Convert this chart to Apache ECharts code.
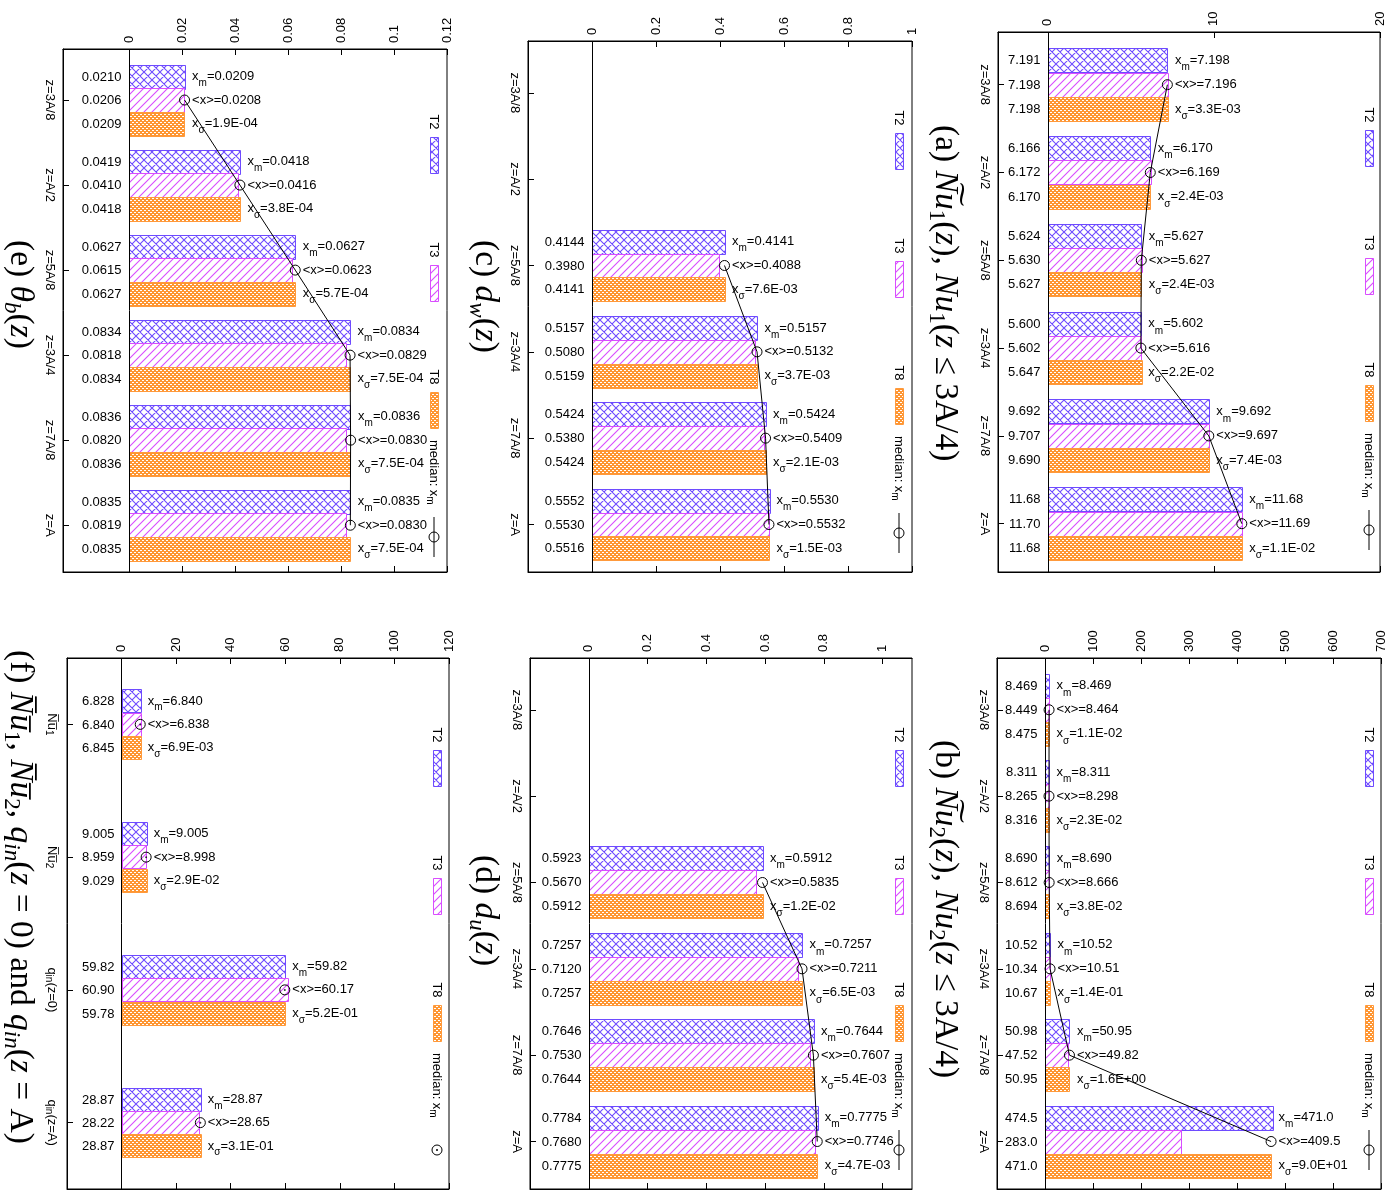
<!DOCTYPE html>
<html><head><meta charset="utf-8">
<script src="https://cdn.jsdelivr.net/npm/echarts@6/dist/echarts.min.js"></script>
<style>html,body{margin:0;padding:0;background:#fff}#c{width:1389px;height:1195px}</style>
</head><body><div id="c"></div>
<script>
// ---------------- DATA ----------------
const catsZ = ['z=3A/8','z=A/2','z=5A/8','z=3A/4','z=7A/8','z=A'];
const catsF = ['{a|N\u0305u\u0305}{s|1}','{a|N\u0305u\u0305}{s|2}','{a|q}{s|in}{a|(z=0)}','{a|q}{s|in}{a|(z=A)}'];

const a_T2=[7.191,6.166,5.624,5.600,9.692,11.68];
const a_T3=[7.198,6.172,5.630,5.602,9.707,11.70];
const a_T8=[7.198,6.170,5.627,5.647,9.690,11.68];
const a_xm=[7.198,6.170,5.627,5.602,9.692,11.68];
const a_mean=[7.196,6.169,5.627,5.616,9.697,11.69];
const a_sd=[3.3e-3,2.4e-3,2.4e-3,2.2e-2,7.4e-3,1.1e-2];
const a_ticks=[0,10,20];

const b_T2=[8.469,8.311,8.690,10.52,50.98,474.5];
const b_T3=[8.449,8.265,8.612,10.34,47.52,283.0];
const b_T8=[8.475,8.316,8.694,10.67,50.95,471.0];
const b_xm=[8.469,8.311,8.690,10.52,50.95,471.0];
const b_mean=[8.464,8.298,8.666,10.51,49.82,409.5];
const b_sd=[1.1e-2,2.3e-2,3.8e-2,1.4e-1,1.6,90];
const b_ticks=[0,100,200,300,400,500,600,700];

const c_T2=[null,null,0.4144,0.5157,0.5424,0.5552];
const c_T3=[null,null,0.3980,0.5080,0.5380,0.5530];
const c_T8=[null,null,0.4141,0.5159,0.5424,0.5516];
const c_xm=[null,null,0.4141,0.5157,0.5424,0.5530];
const c_mean=[null,null,0.4088,0.5132,0.5409,0.5532];
const c_sd=[null,null,7.6e-3,3.7e-3,2.1e-3,1.5e-3];
const c_ticks=[0,0.2,0.4,0.6,0.8,1];

const d_T2=[null,null,0.5923,0.7257,0.7646,0.7784];
const d_T3=[null,null,0.5670,0.7120,0.7530,0.7680];
const d_T8=[null,null,0.5912,0.7257,0.7644,0.7775];
const d_xm=[null,null,0.5912,0.7257,0.7644,0.7775];
const d_mean=[null,null,0.5835,0.7211,0.7607,0.7746];
const d_sd=[null,null,1.2e-2,6.5e-3,5.4e-3,4.7e-3];
const d_ticks=[0,0.2,0.4,0.6,0.8,1];

const e_T2=[0.0210,0.0419,0.0627,0.0834,0.0836,0.0835];
const e_T3=[0.0206,0.0410,0.0615,0.0818,0.0820,0.0819];
const e_T8=[0.0209,0.0418,0.0627,0.0834,0.0836,0.0835];
const e_xm=[0.0209,0.0418,0.0627,0.0834,0.0836,0.0835];
const e_mean=[0.0208,0.0416,0.0623,0.0829,0.0830,0.0830];
const e_sd=[1.9e-4,3.8e-4,5.7e-4,7.5e-4,7.5e-4,7.5e-4];
const e_ticks=[0,0.02,0.04,0.06,0.08,0.1,0.12];

const f_T2=[6.828,9.005,59.82,28.87];
const f_T3=[6.840,8.959,60.90,28.22];
const f_T8=[6.845,9.029,59.78,28.87];
const f_xm=[6.840,9.005,59.82,28.87];
const f_mean=[6.838,8.998,60.17,28.65];
const f_sd=[6.9e-3,2.9e-2,5.2e-1,3.1e-1];
const f_ticks=[0,20,40,60,80,100,120];

const seriesNames=['T2','T3','T8'];

// ---------------- STYLE ----------------
const FONT='"Liberation Sans", Arial, sans-serif';
const SERIF='"Liberation Serif", "Times New Roman", serif';
const COL={T2:'#6e4bff',T3:'#d94dff',T8:'#ff9a3c'};

function mkPattern(kind,color){
  const c=document.createElement('canvas');
  const g=c.getContext('2d');
  if(kind==='T8'){
    c.width=c.height=4;
    const img=g.createImageData(4,4);
    const rgb=[255,150,50];
    for(let i=0;i<4;i++)for(let j=0;j<4;j++){
      const a=(i+j)%4, b=((i-j)%4+4)%4;
      const white=(a>=2&&b>=2);
      const k=(j*4+i)*4;
      img.data[k]=white?255:rgb[0];img.data[k+1]=white?255:rgb[1];img.data[k+2]=white?255:rgb[2];img.data[k+3]=255;
    }
    g.putImageData(img,0,0);
  } else {
    c.width=c.height=8;
    g.fillStyle='#fff';g.fillRect(0,0,8,8);
    g.strokeStyle=color;g.lineWidth=1.1;g.beginPath();
    for(const k of [-8,0,8]){
      g.moveTo(k-1,9);g.lineTo(k+9,-1);
      if(kind==='T2'){g.moveTo(k-1,-1);g.lineTo(k+9,9);}
    }
    g.stroke();
  }
  return {image:c,repeat:'repeat'};
}
const PAT={T2:mkPattern('T2',COL.T2),T3:mkPattern('T3',COL.T3),T8:mkPattern('T8',COL.T8)};

const g4=v=>v.toPrecision(4);
const f4=v=>v.toFixed(4);
function sci(v){const s=v.toExponential(1);const [m,e]=s.split('e');const n=parseInt(e,10);return m+'E'+(n<0?'-':'+')+String(Math.abs(n)).padStart(2,'0');}
const tickFmt=v=>String(parseFloat((+v).toFixed(6)));

const P6={ymin:-0.6,ymax:5.55};
const panels=[
 {L:998,T:32,R:1380,B:572,xmin:-3,xmax:20,ticks:a_ticks,cats:catsZ,d:[a_T2,a_T3,a_T8],xm:a_xm,mean:a_mean,sd:a_sd,fmt:g4,line:true,h:24.3,...P6,
  title:'{r|(a) }{i|N\u0360u}{s|1}{r|(}{i|z}{r|), }{i|Nu}{s|1}{r|(}{i|z}{r| \u2264 3A/4)}',tx:945,ty:125,lx:1369,ly:115},
 {L:997,T:658,R:1381,B:1189,xmin:-100,xmax:700,ticks:b_ticks,cats:catsZ,d:[b_T2,b_T3,b_T8],xm:b_xm,mean:b_mean,sd:b_sd,fmt:g4,line:true,h:24,...P6,
  title:'{r|(b) }{i|N\u0360u}{s|2}{r|(}{i|z}{r|), }{i|Nu}{s|2}{r|(}{i|z}{r| \u2264 3A/4)}',tx:945,ty:740,lx:1369,ly:735},
 {L:528,T:41,R:912,B:572,xmin:-0.2,xmax:1,ticks:c_ticks,cats:catsZ,d:[c_T2,c_T3,c_T8],xm:c_xm,mean:c_mean,sd:c_sd,fmt:f4,line:true,h:23.8,...P6,
  title:'{r|(c) }{i|d}{si|w}{r|(}{i|z}{r|)}',tx:485,ty:240,lx:899,ly:118},
 {L:530,T:658,R:912,B:1189,xmin:-0.2,xmax:1.1,ticks:d_ticks,cats:catsZ,d:[d_T2,d_T3,d_T8],xm:d_xm,mean:d_mean,sd:d_sd,fmt:f4,line:true,h:24,...P6,
  title:'{r|(d) }{i|d}{si|u}{r|(}{i|z}{r|)}',tx:485,ty:855,lx:899,ly:735},
 {L:63,T:49,R:447,B:572,xmin:-0.025,xmax:0.12,ticks:e_ticks,cats:catsZ,d:[e_T2,e_T3,e_T8],xm:e_xm,mean:e_mean,sd:e_sd,fmt:f4,line:true,h:23.5,...P6,
  title:'{r|(e) }{i|\u03b8}{si|b}{r|(}{i|z}{r|)}',tx:20,ty:240,lx:434,ly:122},
 {L:67,T:658,R:449,B:1189,xmin:-20,xmax:120,ticks:f_ticks,cats:catsF,d:[f_T2,f_T3,f_T8],xm:f_xm,mean:f_mean,sd:f_sd,fmt:g4,line:false,h:23.3,ymin:-0.5,ymax:3.5,
  title:'{r|(f) }{i|N\u0305u\u0305}{s|1}{r|, }{i|N\u0305u\u0305}{s|2}{r|, }{i|q}{si|in}{r|(}{i|z}{r| = 0) and }{i|q}{si|in}{r|(}{i|z}{r| = A)}',tx:20,ty:650,lx:437,ly:735}
];

// ---------------- BUILD ----------------
const grids=[],xAxes=[],yAxes=[],series=[],gfx=[];
const TS=33.5;
const titleRich={
  r:{fontFamily:SERIF,fontSize:TS,fill:'#000',lineHeight:40},
  i:{fontFamily:SERIF,fontSize:TS,fontStyle:'italic',fill:'#000',lineHeight:40},
  s:{fontFamily:SERIF,fontSize:23,fill:'#000',verticalAlign:'bottom',lineHeight:28},
  si:{fontFamily:SERIF,fontSize:23,fontStyle:'italic',fill:'#000',verticalAlign:'bottom',lineHeight:28}
};
const statRich=h=>({
  t:{fontFamily:FONT,fontSize:13,color:'#000',lineHeight:h},
  s:{fontFamily:FONT,fontSize:10,color:'#000',lineHeight:14,verticalAlign:'bottom'}
});

function barRender(off,fill,stroke,fmt,h){
  return function(params,api){
    const v=api.value(0),i=api.value(1);
    const p0=api.coord([0,i]),p1=api.coord([v,i]);
    const x=Math.round(p0[0])+0.5;
    const y=Math.round(p0[1]+off*h-h/2)+0.5;
    const w=Math.round(p1[0]-p0[0]);
    return {type:'group',children:[
      {type:'rect',shape:{x:x,y:y,width:w,height:Math.round(h)},style:{fill:fill,stroke:stroke,lineWidth:1}},
      {type:'text',style:{text:fmt(v),x:x-8,y:y+h/2,textAlign:'right',align:'right',textVerticalAlign:'middle',verticalAlign:'middle',fontSize:13,fontFamily:FONT,fill:'#000'}}
    ]};
  };
}

panels.forEach((P,gi)=>{
  grids.push({left:P.L,top:P.T,width:P.R-P.L,height:P.B-P.T,show:true,borderColor:'#000',borderWidth:1,backgroundColor:'transparent',containLabel:false,outerBoundsMode:'none'});
  const base={gridIndex:gi,type:'value',min:P.xmin,max:P.xmax,splitLine:{show:false},
    axisLine:{show:true,onZero:false,lineStyle:{color:'#000',width:1}},
    axisTick:{show:true,inside:true,length:6,customValues:P.ticks,lineStyle:{color:'#000'}}};
  xAxes.push(Object.assign({},base,{position:'top',
    axisLabel:{show:true,customValues:P.ticks,rotate:-90,margin:6,fontSize:13,fontFamily:FONT,color:'#000',formatter:tickFmt}}));
  xAxes.push(Object.assign({},base,{position:'bottom',axisLabel:{show:false}}));
  const idx=P.cats.map((c,i)=>i);
  yAxes.push({gridIndex:gi,type:'value',inverse:true,min:P.ymin,max:P.ymax,splitLine:{show:false},
    axisLine:{show:true,onZero:false,lineStyle:{color:'#000'}},
    axisTick:{show:true,inside:true,length:6,customValues:idx,lineStyle:{color:'#000'}},
    axisLabel:{show:true,customValues:idx,rotate:-90,margin:7,fontSize:13,fontFamily:FONT,color:'#000',
      formatter:v=>P.cats[Math.round(v)],
      rich:{a:{fontSize:13,fontFamily:FONT,color:'#000',lineHeight:16},s:{fontSize:10,fontFamily:FONT,color:'#000',lineHeight:12,verticalAlign:'bottom'}}}});
  const xa=2*gi;
  P.d.forEach((arr,k)=>{
    const nm=seriesNames[k];
    series.push({type:'custom',name:nm,xAxisIndex:xa,yAxisIndex:gi,z:2,
      renderItem:barRender(k-1,PAT[nm],COL[nm],P.fmt,P.h),
      data:arr.map((v,i)=>v==null?null:[v,i]).filter(Boolean)});
  });
  const med=P.xm.map((v,i)=>v==null?null:[v,i]).filter(Boolean);
  series.push({type:'line',xAxisIndex:xa,yAxisIndex:gi,z:5,data:med,symbol:'circle',symbolSize:10,showSymbol:true,
    lineStyle:{color:'#000',width:1,opacity:P.line?1:0},
    itemStyle:{color:'rgba(0,0,0,0)',borderColor:'#000',borderWidth:1},
    label:{show:true,position:'right',distance:2,
      formatter:p=>{const i=p.value[1];return '{t|x}{s|m}{t|='+P.fmt(P.xm[i])+'}\n{t|<x>='+P.fmt(P.mean[i])+'}\n{t|x}{s|\u03c3}{t|='+sci(P.sd[i])+'}';},
      rich:statRich(P.h)},
    markLine:{silent:true,symbol:['none','none'],label:{show:false},lineStyle:{color:'#000',type:'solid',width:1},data:[{xAxis:0}]}});
  if(!P.line){
    series.push({type:'scatter',xAxisIndex:xa,yAxisIndex:gi,z:6,data:med,symbol:'circle',symbolSize:2,itemStyle:{color:'#000'}});
  }
  // title
  gfx.push({type:'text',x:P.tx,y:P.ty,rotation:-Math.PI/2,style:{text:P.title,rich:titleRich,fill:'#000',textAlign:'left',align:'left',textVerticalAlign:'middle',verticalAlign:'middle'}});
  // legend
  const x=P.lx,y=P.ly;
  [['T2',0],['T3',128],['T8',255]].forEach(([nm,dy])=>{
    gfx.push({type:'text',x:x,y:y+dy,rotation:-Math.PI/2,style:{text:nm,fontSize:13,fontFamily:FONT,fill:'#000',textAlign:'center',align:'center',textVerticalAlign:'middle',verticalAlign:'middle'}});
    gfx.push({type:'rect',shape:{x:Math.round(x-4)+0.5,y:Math.round(y+dy+15)+0.5,width:8,height:36},style:{fill:PAT[nm],stroke:COL[nm],lineWidth:1}});
  });
  gfx.push({type:'text',x:x,y:y+318,rotation:-Math.PI/2,style:{text:'{t|median: x}{s|m}',rich:{t:{fontSize:13,fontFamily:FONT,fill:'#000',lineHeight:18},s:{fontSize:10,fontFamily:FONT,fill:'#000',lineHeight:12,verticalAlign:'bottom'}},textAlign:'left',align:'left',textVerticalAlign:'middle',verticalAlign:'middle'}});
  const cy=y+415;
  if(P.line) gfx.push({type:'line',shape:{x1:x,y1:cy-20,x2:x,y2:cy+20},style:{stroke:'#000',lineWidth:1}});
  gfx.push({type:'circle',shape:{cx:x,cy:cy,r:5},style:{fill:'rgba(0,0,0,0)',stroke:'#000',lineWidth:1}});
  if(!P.line) gfx.push({type:'circle',shape:{cx:x,cy:cy,r:1},style:{fill:'#000'}});
});

const chart=echarts.init(document.getElementById('c'),null,{renderer:'canvas'});
chart.setOption({animation:false,backgroundColor:'#fff',grid:grids,xAxis:xAxes,yAxis:yAxes,series:series,graphic:{elements:gfx}});
</script></body></html>
